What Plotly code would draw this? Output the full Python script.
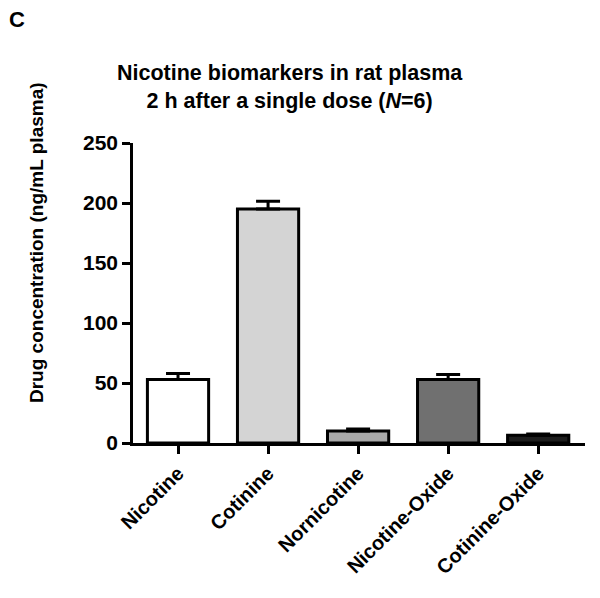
import plotly.graph_objects as go

compounds = ["Nicotine", "Cotinine", "Nornicotine", "Nicotine-Oxide", "Cotinine-Oxide"]
mean_conc = [53, 195, 10, 53, 6.5]
sem_conc = [5, 6.5, 1.7, 4, 1]
bar_colors = ["#ffffff", "#d4d4d4", "#a9a9a9", "#707070", "#1c1c1c"]

FONT = "Liberation Sans, Arial, sans-serif"
OFF = 8  # page body margin
L, R, T, B = 133 - OFF, 23, 143 - OFF, 163
W, H = 600, 598
pw, ph = W - L - R, H - T - B


def px_to_paper(x, y):
    # place annotations by pixel position in the picture
    x, y = x - OFF, y - OFF
    return (x - L) / pw, (H - B - y) / ph


fig = go.Figure()
fig.add_trace(go.Bar(
    x=compounds, y=mean_conc,
    marker=dict(color=bar_colors, line=dict(color="black", width=3)),
    width=0.68,
    error_y=dict(type="data", array=sem_conc, arrayminus=[0] * 5, symmetric=False,
                 color="black", thickness=3, width=12),
))

fig.update_layout(
    width=W, height=H,
    paper_bgcolor="white", plot_bgcolor="white",
    margin=dict(l=L, r=R, t=T, b=B),
    showlegend=False,
    font=dict(family=FONT, size=20, color="black", weight="bold"),
)

for text, (x, y), size, angle, xanchor in [
    ("C", (8, 19.5), 22, 0, "left"),
    ("Nicotine biomarkers in rat plasma<br>2 h after a single dose (<i>N</i>=6)", (290, 87), 21.5, 0, "center"),
    ("Drug concentration (ng/mL plasma)", (36, 243), 19, -90, "center"),
]:
    ax, ay = px_to_paper(x, y)
    fig.add_annotation(text=text, x=ax, y=ay, xref="paper", yref="paper",
                       showarrow=False, textangle=angle,
                       xanchor=xanchor, yanchor="middle", borderpad=0,
                       font=dict(size=size, weight="bold"))

fig.update_xaxes(
    range=[-0.5, 4.52], showline=True, linecolor="black", linewidth=2.5,
    ticks="outside", ticklen=8, tickwidth=2.5, tickcolor="black",
    tickangle=-45, tickfont=dict(size=20, weight="bold"), showgrid=False,
)
fig.update_yaxes(
    range=[0, 250], showline=True, linecolor="black", linewidth=2.5,
    ticks="outside", ticklen=8, tickwidth=2.5, tickcolor="black",
    tickvals=[0, 50, 100, 150, 200, 250], tickfont=dict(size=21, weight="bold"),
    showgrid=False, zeroline=False,
)

fig.write_html("out.html")
